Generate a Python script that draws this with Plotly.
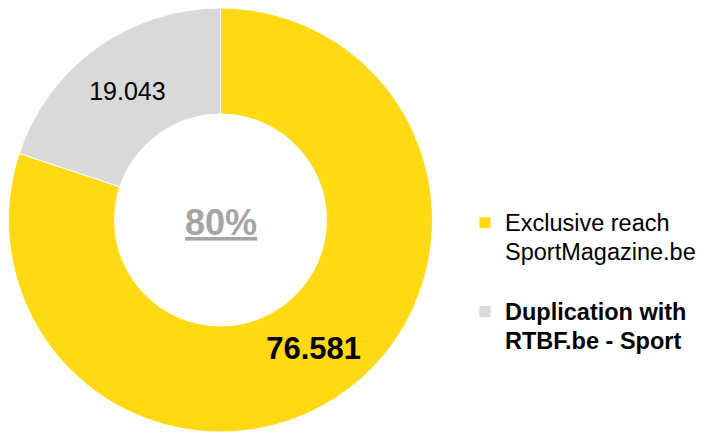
import plotly.graph_objects as go

categories = ["Exclusive reach<br>SportMagazine.be", "Duplication with<br>RTBF.be - Sport"]
values = [76.581, 19.043]
value_labels = ["76.581", "19.043"]
colors = ["#FFD914", "#D9D9D9"]
center_label = "80%"

legend_names = [
    '<span style="font-size:23.5px">' + categories[0] + '</span><br>&nbsp;',
    '<span style="font-size:23.5px"><b>' + categories[1] + '</b></span>',
]
slice_text = ["<b>" + value_labels[0] + "</b>", value_labels[1]]

# the page body adds an 8px offset; the figure is laid out to compensate
fig = go.Figure(go.Pie(
    labels=legend_names,
    values=values,
    text=slice_text,
    textinfo="text",
    hoverinfo="label+value",
    sort=False,
    direction="clockwise",
    rotation=0,
    hole=0.5,
    marker=dict(colors=colors, line=dict(color="white", width=1)),
    textfont=dict(family="Liberation Sans, Arial, sans-serif", size=[31, 25], color="black"),
    insidetextorientation="horizontal",
    textposition="inside",
    domain=dict(x=[0.5 / 705, 424.5 / 705], y=[8 / 432, 1]),
))

fig.add_annotation(
    x=212.5 / 705, y=1 - 215 / 432, xref="paper", yref="paper",
    xanchor="center", yanchor="middle",
    text="<b><u>" + center_label + "</u></b>", showarrow=False,
    font=dict(family="Liberation Sans, Arial, sans-serif", size=36, color="#A5A5A5"),
)

fig.update_layout(
    width=705, height=432,
    margin=dict(l=0, r=0, t=0, b=0, autoexpand=False),
    paper_bgcolor="white", plot_bgcolor="white",
    font=dict(family="Liberation Sans, Arial, sans-serif", color="black"),
    showlegend=True,
    legend=dict(
        xref="container", yref="container",
        x=457 / 705, y=1 - 194 / 432, xanchor="left", yanchor="top",
        font=dict(family="Liberation Sans, Arial, sans-serif", size=22, color="black"),
        valign="top", bgcolor="rgba(0,0,0,0)",
        tracegroupgap=0,
    ),
)

fig.write_html("out.html")
